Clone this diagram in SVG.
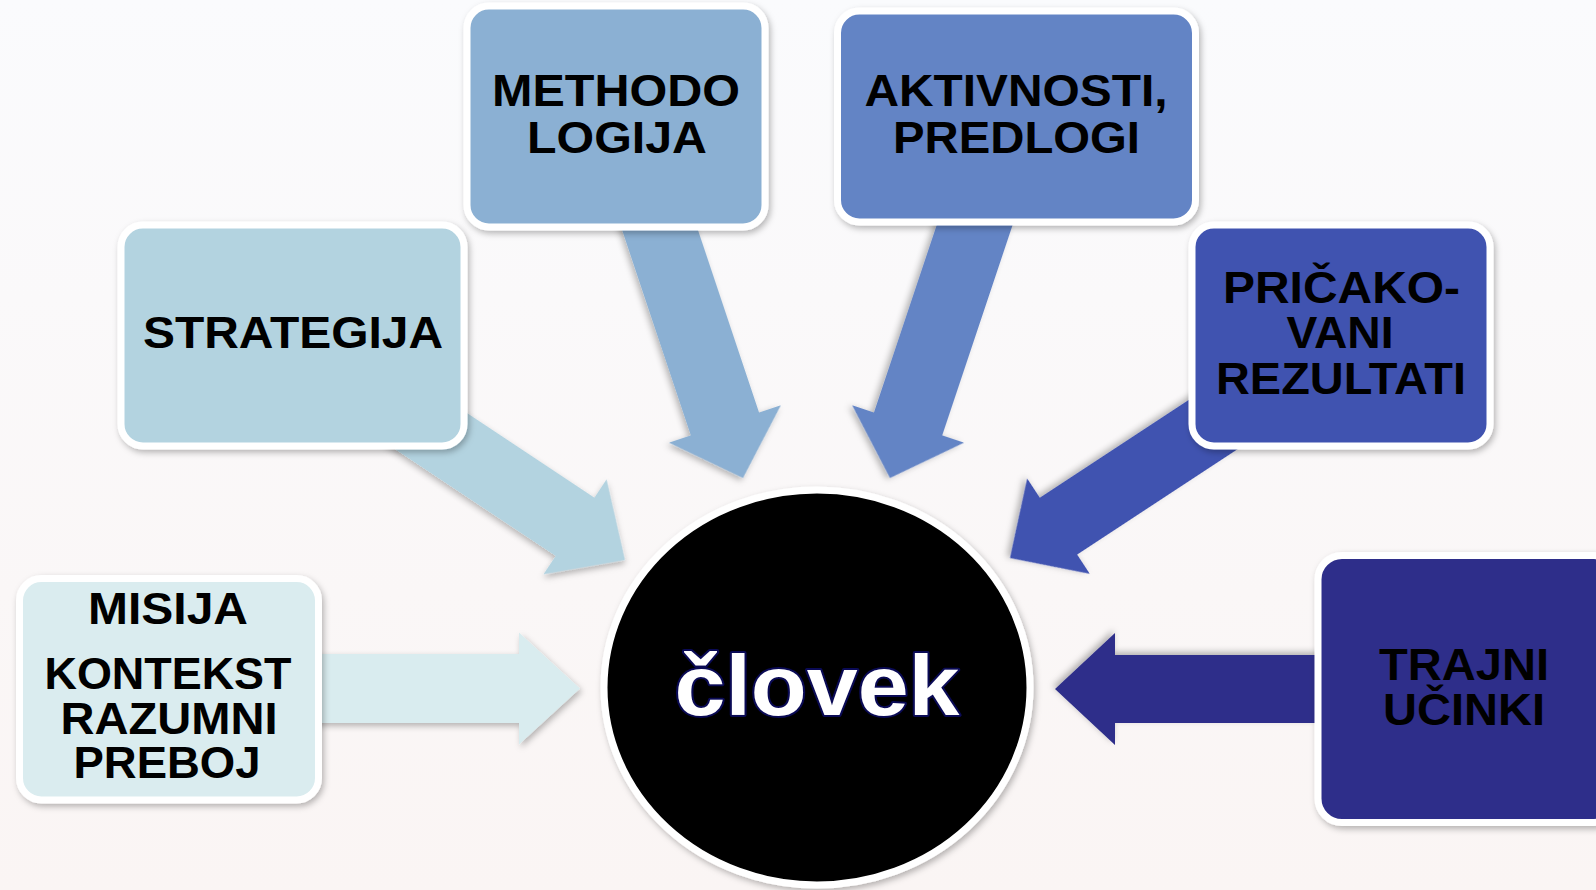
<svg xmlns="http://www.w3.org/2000/svg" width="1596" height="890" viewBox="0 0 1596 890">
  <defs>
    <linearGradient id="bg" x1="0" y1="0" x2="0" y2="1">
      <stop offset="0" stop-color="#fafbfd"/>
      <stop offset="1" stop-color="#faf5f4"/>
    </linearGradient>
    <filter id="sh" x="-20%" y="-20%" width="140%" height="140%">
      <feDropShadow dx="2" dy="3" stdDeviation="3" flood-color="#000" flood-opacity="0.28"/>
    </filter>
    <style>
      .box { stroke: #ffffff; stroke-width: 7; filter: url(#sh); }
      .arr { filter: url(#sh); }
      .lbl { font-family: "Liberation Sans", Arial, sans-serif; font-weight: bold; font-size: 45px; fill: #000; text-anchor: middle; }
      .ctr { font-family: "Liberation Sans", Arial, sans-serif; font-weight: bold; font-size: 86px; fill: #fff; text-anchor: middle; stroke: #0a0a55; stroke-width: 4; paint-order: stroke; stroke-linejoin: round; }
    </style>
  </defs>
  <rect x="0" y="0" width="1596" height="890" fill="url(#bg)"/>

  <g id="connectors">
    <!-- MISIJA -> center -->
    <polygon class="arr" fill="#d9ecef" transform="translate(580,688.5) rotate(0)" points="-300,-34.5 -61,-34.5 -61,-56 0,0 -61,56 -61,34.5 -300,34.5"/>
    <!-- STRATEGIJA -> center -->
    <polygon class="arr" fill="#b3d3e0" transform="translate(625,560) rotate(33.6)" points="-340,-35 -60,-35 -60,-57 0,0 -60,57 -60,35 -340,35"/>
    <!-- METHODOLOGIJA -> center -->
    <polygon class="arr" fill="#8bb0d3" transform="translate(743,478) rotate(71.5)" points="-330,-36 -57,-36 -57,-59 0,0 -57,59 -57,36 -330,36"/>
    <!-- AKTIVNOSTI -> center -->
    <polygon class="arr" fill="#6384c5" transform="translate(890,478) rotate(108.5)" points="-330,-36 -57,-36 -57,-59 0,0 -57,59 -57,36 -330,36"/>
    <!-- PRICAKOVANI -> center -->
    <polygon class="arr" fill="#3f52b0" transform="translate(1010,558) rotate(146.7)" points="-340,-34 -58,-34 -58,-57 0,0 -58,57 -58,34 -340,34"/>
    <!-- TRAJNI -> center -->
    <polygon class="arr" fill="#2e2f8a" transform="translate(1055,689) rotate(180)" points="-300,-34 -60,-34 -60,-56 0,0 -60,56 -60,34 -300,34"/>
  </g>

  <g id="node-misija">
    <rect class="box" x="19.5" y="578.5" width="299" height="221.5" rx="22" fill="#daecef"/>
    <text class="lbl" x="168" y="624" textLength="160" lengthAdjust="spacingAndGlyphs">MISIJA</text>
    <text class="lbl" x="168" y="689" textLength="247" lengthAdjust="spacingAndGlyphs">KONTEKST</text>
    <text class="lbl" x="169" y="734" textLength="217" lengthAdjust="spacingAndGlyphs">RAZUMNI</text>
    <text class="lbl" x="167" y="778" textLength="187" lengthAdjust="spacingAndGlyphs">PREBOJ</text>
  </g>

  <g id="node-strategija">
    <rect class="box" x="121" y="225" width="343" height="221" rx="22" fill="#b3d3e0"/>
    <text class="lbl" x="293" y="348" textLength="300" lengthAdjust="spacingAndGlyphs">STRATEGIJA</text>
  </g>

  <g id="node-methodologija">
    <rect class="box" x="467" y="6" width="298" height="221" rx="22" fill="#8bb0d3"/>
    <text class="lbl" x="616" y="106" textLength="248" lengthAdjust="spacingAndGlyphs">METHODO</text>
    <text class="lbl" x="617" y="153" textLength="180" lengthAdjust="spacingAndGlyphs">LOGIJA</text>
  </g>

  <g id="node-aktivnosti">
    <rect class="box" x="837.5" y="11" width="358" height="211" rx="22" fill="#6384c5"/>
    <text class="lbl" x="1016" y="106" textLength="303" lengthAdjust="spacingAndGlyphs">AKTIVNOSTI,</text>
    <text class="lbl" x="1016.5" y="153" textLength="247" lengthAdjust="spacingAndGlyphs">PREDLOGI</text>
  </g>

  <g id="node-pricakovani">
    <rect class="box" x="1192" y="225" width="298" height="221" rx="22" fill="#3f52b0"/>
    <text class="lbl" x="1341.5" y="303" textLength="237" lengthAdjust="spacingAndGlyphs">PRIČAKO-</text>
    <text class="lbl" x="1340" y="348" textLength="107" lengthAdjust="spacingAndGlyphs">VANI</text>
    <text class="lbl" x="1341" y="394" textLength="250" lengthAdjust="spacingAndGlyphs">REZULTATI</text>
  </g>

  <g id="node-trajni">
    <rect class="box" x="1318" y="555.5" width="300" height="267" rx="24" fill="#2e2f8a"/>
    <text class="lbl" x="1464" y="680" textLength="170" lengthAdjust="spacingAndGlyphs">TRAJNI</text>
    <text class="lbl" x="1464" y="725" textLength="162" lengthAdjust="spacingAndGlyphs">UČINKI</text>
  </g>

  <g id="node-clovek">
    <ellipse cx="817" cy="687.5" rx="213" ry="197.5" fill="#000" stroke="#fff" stroke-width="7" filter="url(#sh)"/>
    <text class="ctr" x="817" y="715" textLength="285" lengthAdjust="spacingAndGlyphs">človek</text>
  </g>
</svg>
